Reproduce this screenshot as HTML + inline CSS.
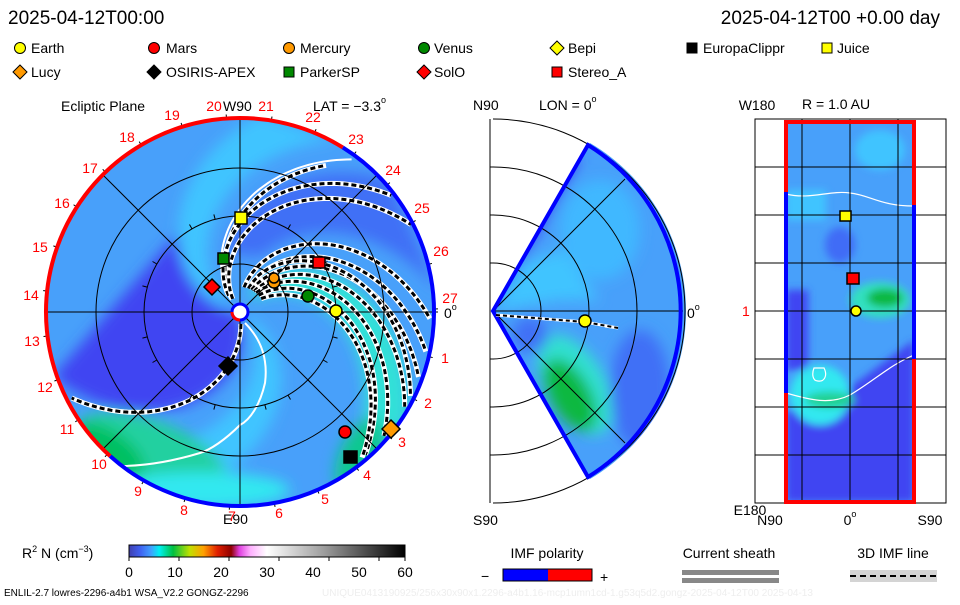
<!DOCTYPE html>
<html><head><meta charset="utf-8"><style>
html,body{margin:0;padding:0;background:#fff;}
svg text{font-family:"Liberation Sans",sans-serif;}
</style></head><body>
<svg id="s" width="960" height="600" viewBox="0 0 960 600" xmlns="http://www.w3.org/2000/svg">
<defs>
<clipPath id="cc"><circle cx="240" cy="312" r="193"/></clipPath>
<clipPath id="wc"><path d="M493,311 L590,143 A195,195 0 0 1 590,479 Z"/></clipPath>
<clipPath id="rc"><rect x="786" y="122" width="128" height="380"/></clipPath>
<filter id="bl"><feGaussianBlur stdDeviation="7"/></filter>
<filter id="bl2"><feGaussianBlur stdDeviation="4"/></filter>
<linearGradient id="cb" x1="0" x2="1">
<stop offset="0" stop-color="#4040b0"/><stop offset="0.04" stop-color="#4060f0"/><stop offset="0.08" stop-color="#40a0ff"/><stop offset="0.11" stop-color="#00f0f0"/><stop offset="0.16" stop-color="#00c040"/><stop offset="0.22" stop-color="#c0e000"/><stop offset="0.27" stop-color="#ffa000"/><stop offset="0.32" stop-color="#e02000"/><stop offset="0.37" stop-color="#900000"/><stop offset="0.40" stop-color="#e040e0"/><stop offset="0.44" stop-color="#ffb0ff"/><stop offset="0.5" stop-color="#ffffff"/><stop offset="0.7" stop-color="#a0a0a0"/><stop offset="1" stop-color="#000"/>
</linearGradient>
</defs>
<text x="8" y="24" font-size="19">2025-04-12T00:00</text>
<text x="940" y="24" font-size="19" text-anchor="end">2025-04-12T00 +0.00 day</text>
<g font-size="14" stroke="#000" stroke-width="1">
<circle cx="20" cy="48" r="5.5" fill="#ff0"/><circle cx="154" cy="48" r="5.5" fill="#f00"/><circle cx="289" cy="48" r="5.5" fill="#f90"/><circle cx="424" cy="48" r="5.5" fill="#080"/>
<path d="M557,41 l7,7 -7,7 -7,-7z" fill="#ff0"/><rect x="687" y="43" width="10" height="10" fill="#000"/><rect x="822" y="43" width="10" height="10" fill="#ff0"/>
<path d="M20,65 l7,7 -7,7 -7,-7z" fill="#f90"/><path d="M154,65 l7,7 -7,7 -7,-7z" fill="#000"/><rect x="284" y="67" width="10" height="10" fill="#080"/><path d="M424,65 l7,7 -7,7 -7,-7z" fill="#f00"/><rect x="552" y="67" width="10" height="10" fill="#f00"/>
</g>
<g font-size="14">
<text x="31" y="53">Earth</text><text x="166" y="53">Mars</text><text x="300" y="53">Mercury</text><text x="434" y="53">Venus</text><text x="568" y="53">Bepi</text><text x="703" y="53">EuropaClippr</text><text x="837" y="53">Juice</text>
<text x="31" y="77">Lucy</text><text x="166" y="77">OSIRIS-APEX</text><text x="300" y="77">ParkerSP</text><text x="434" y="77">SolO</text><text x="568" y="77">Stereo_A</text>
</g>
<!-- main panel -->
<g clip-path="url(#cc)">
<circle cx="240" cy="312" r="194" fill="#48a0fa"/>
<g filter="url(#bl)">
<path id="dark" fill="#3f45f2"/>
<path id="dark2" fill="#3f70f6"/>
<path id="cyan1" fill="#40c4ff"/>
<path id="cyan2" fill="#40c4ff"/>
<path id="turq" fill="#30e0d8"/>
<ellipse cx="150" cy="455" rx="80" ry="35" fill="#20d0a0" transform="rotate(20 150 455)"/>
<ellipse cx="110" cy="450" rx="40" ry="18" fill="#00c060" transform="rotate(35 110 450)"/>
<ellipse cx="200" cy="490" rx="90" ry="18" fill="#30e8f0"/>
<ellipse cx="360" cy="455" rx="20" ry="40" fill="#10c890" transform="rotate(25 360 455)"/>
</g>
<g id="wl" fill="none" stroke="#fff" stroke-width="2">
<path d="M245,323 C262,340 268,360 265,383 C260,405 250,420 240,425 C225,440 210,450 200,453 C170,462 145,466 120,466"/>
</g>
<g id="arms" fill="none"></g>
</g>
<g fill="none" stroke="#000" stroke-width="1">
<circle cx="240" cy="312" r="48"/><circle cx="240" cy="312" r="96"/><circle cx="240" cy="312" r="144"/>
<line x1="46" y1="312" x2="434" y2="312"/><line x1="240" y1="118" x2="240" y2="506"/>
<line x1="103" y1="175" x2="377" y2="449"/><line x1="103" y1="449" x2="377" y2="175"/>
</g>
<g id="ticks" stroke="#000" stroke-width="1"></g>
<path id="ringR" fill="none" stroke="#f00" stroke-width="4"/>
<path id="ringB" fill="none" stroke="#00f" stroke-width="4"/>
<circle cx="240" cy="312" r="8" fill="#fff" stroke="#00f" stroke-width="3"/>
<path d="M232,312 A8,8 0 0 0 240,320" fill="none" stroke="#f00" stroke-width="3"/>
<g stroke="#000" stroke-width="1.5">
<rect x="235" y="212" width="12" height="12" fill="#ff0"/>
<rect x="218" y="253" width="11" height="11" fill="#080"/>
<rect x="313" y="257" width="12" height="11" fill="#f00"/>
<path d="M212,279 l8,8 -8,8 -8,-8z" fill="#f00"/>
<circle cx="274" cy="282" r="6" fill="#f90"/><circle cx="274" cy="278" r="5" fill="#f90"/>
<circle cx="308" cy="296" r="6" fill="#080"/>
<circle cx="336" cy="311" r="6" fill="#ff0"/>
<path d="M228,357 l9,9 -9,9 -9,-9z" fill="#000"/>
<circle cx="345" cy="432" r="6" fill="#f00"/>
<rect x="344" y="451" width="13" height="12" fill="#000"/>
<path d="M391,420 l9,9 -9,9 -9,-9z" fill="#f90"/>
</g>
<g font-size="14" fill="#f00" text-anchor="middle" dominant-baseline="central">
<text x="214" y="106">20</text><text x="266" y="106">21</text><text x="172" y="115">19</text><text x="313" y="117">22</text><text x="127" y="137">18</text><text x="356" y="139">23</text><text x="90" y="168">17</text><text x="393" y="170">24</text><text x="62" y="203">16</text><text x="422" y="208">25</text><text x="40" y="247">15</text><text x="441" y="251">26</text><text x="31" y="295">14</text><text x="450" y="298">27</text><text x="32" y="341">13</text><text x="445" y="358">1</text><text x="45" y="387">12</text><text x="428" y="403">2</text><text x="67" y="429">11</text><text x="402" y="442">3</text><text x="99" y="464">10</text><text x="367" y="475">4</text><text x="138" y="491">9</text><text x="325" y="499">5</text><text x="184" y="510">8</text><text x="232" y="516">7</text><text x="279" y="513">6</text>
</g>
<g font-size="14" dominant-baseline="central">
<text x="61" y="106">Ecliptic Plane</text><text x="223" y="106">W90</text><text x="313" y="106">LAT = −3.3<tspan font-size="9" dy="-6">o</tspan></text>
<text x="223" y="519">E90</text><text x="444" y="313">0<tspan font-size="9" dy="-6">o</tspan></text>
</g>
<!-- middle panel -->
<g clip-path="url(#wc)">
<rect x="490" y="140" width="200" height="345" fill="#48a0fa"/>
<g filter="url(#bl)">
<path d="M493,311 L580,160 L560,150 Z" fill="#3f45f2"/>
<path d="M493,311 L520,265 L560,250 L600,300 L560,300 Z" fill="#40c4ff"/>
<ellipse cx="575" cy="385" rx="30" ry="55" fill="#30e0d0" transform="rotate(-30 575 385)"/>
<ellipse cx="570" cy="395" rx="20" ry="40" fill="#10b840" transform="rotate(-30 570 395)"/>
<ellipse cx="530" cy="335" rx="18" ry="18" fill="#3f70f6"/>
<ellipse cx="640" cy="390" rx="30" ry="60" fill="#3f70f6"/>
<ellipse cx="600" cy="230" rx="40" ry="50" fill="#40b8ff"/>
</g>
</g>
<g fill="none" stroke="#000" stroke-width="1">
<line x1="490" y1="119" x2="490" y2="503"/>
<path d="M493,263 A48,48 0 0 1 493,359"/><path d="M493,215 A96,96 0 0 1 493,407"/><path d="M493,167 A144,144 0 0 1 493,455"/><path d="M493,119 A192,192 0 0 1 493,503"/>
<line x1="493" y1="311" x2="683" y2="311"/><line x1="493" y1="311" x2="625" y2="179"/><line x1="493" y1="311" x2="625" y2="443"/>
<path d="M490,167h4M490,215h4M490,263h4M490,359h4M490,407h4M490,455h4"/>
</g>
<path d="M493,311 L588,145 A195,195 0 0 1 588,477 Z" fill="none" stroke="#00f" stroke-width="4"/>
<path d="M496,315 L585,322 L618,328 L605,326" fill="none" stroke="#fff" stroke-width="3"/>
<path d="M496,315 L585,322 L618,328" fill="none" stroke="#000" stroke-width="2" stroke-dasharray="4,3"/>
<circle cx="585" cy="321" r="6" fill="#ff0" stroke="#000" stroke-width="1.5"/>
<g font-size="14" dominant-baseline="central">
<text x="473" y="105">N90</text><text x="539" y="105">LON = 0<tspan font-size="9" dy="-6">o</tspan></text>
<text x="473" y="520">S90</text><text x="687" y="313">0<tspan font-size="9" dy="-6">o</tspan></text>
</g>
<!-- right panel -->
<rect x="755" y="119" width="191" height="384" fill="#fff" stroke="#000"/>
<g clip-path="url(#rc)">
<rect x="786" y="122" width="128" height="380" fill="#48a0fa"/>
<g filter="url(#bl2)">
<rect x="786" y="410" width="128" height="92" fill="#3f45f2"/>
<path d="M860,380 L914,340 L914,410 L786,430 Z" fill="#3f45f2"/>
<rect x="786" y="290" width="22" height="80" fill="#3f45f2"/>
<rect x="786" y="190" width="40" height="30" fill="#40c4ff"/>
<ellipse cx="820" cy="395" rx="30" ry="30" fill="#30e8f0"/>
<ellipse cx="880" cy="300" rx="30" ry="18" fill="#30e0c0"/>
<ellipse cx="885" cy="298" rx="18" ry="9" fill="#10b840"/>
<ellipse cx="830" cy="400" rx="25" ry="8" fill="#20d090"/>
<ellipse cx="880" cy="150" rx="25" ry="20" fill="#40c4ff"/>
<ellipse cx="840" cy="245" rx="15" ry="18" fill="#3f6cf6"/>
</g>
<path d="M786,194 C810,200 830,190 850,193 C870,195 880,206 914,206" fill="none" stroke="#fff" stroke-width="1.2"/>
<path d="M786,393 C810,400 830,405 850,395 C875,380 890,365 914,355" fill="none" stroke="#fff" stroke-width="1.2"/>
<path d="M814,368 h10 c4,8 0,14 -6,13 c-6,0 -6,-8 -4,-13z" fill="none" stroke="#fff" stroke-width="1.2"/>
</g>
<g stroke="#000" stroke-width="1">
<path d="M755,167h191M755,215h191M755,263h191M755,311h191M755,359h191M755,407h191M755,455h191M802,119v384M850,119v384M898,119v384"/>
</g>
<path d="M786,192 V122 H914 V205 M914,359 V502 H786 V393" fill="none" stroke="#f00" stroke-width="4"/>
<path d="M786,192 V393 M914,205 V359" fill="none" stroke="#00f" stroke-width="4"/>
<g stroke="#000" stroke-width="1.5">
<rect x="840" y="211" width="11" height="10" fill="#ff0"/>
<rect x="847" y="273" width="12" height="11" fill="#f00"/>
<circle cx="856" cy="311" r="5" fill="#ff0"/>
</g>
<g font-size="14" dominant-baseline="central">
<text x="757" y="105" text-anchor="middle">W180</text><text x="802" y="104">R = 1.0 AU</text>
<text x="750" y="510" text-anchor="middle">E180</text><text x="770" y="520" text-anchor="middle">N90</text>
<text x="850" y="520" text-anchor="middle">0<tspan font-size="9" dy="-6">o</tspan></text><text x="930" y="520" text-anchor="middle">S90</text>
<text x="742" y="311" fill="#f00">1</text>
</g>
<!-- bottom -->
<text x="22" y="558" font-size="14">R<tspan font-size="9" dy="-6">2</tspan><tspan dy="6"> N (cm</tspan><tspan font-size="9" dy="-6">−3</tspan><tspan dy="6">)</tspan></text>
<rect x="129" y="545" width="276" height="12" fill="url(#cb)" stroke="#000"/>
<g stroke="#000"><path d="M129,557v4M179,557v4M229,557v4M279,557v4M329,557v4M379,557v4M405,557v4"/></g>
<g font-size="14" text-anchor="middle"><text x="129" y="577">0</text><text x="175" y="577">10</text><text x="221" y="577">20</text><text x="267" y="577">30</text><text x="313" y="577">40</text><text x="359" y="577">50</text><text x="405" y="577">60</text></g>
<text x="547" y="558" font-size="14" text-anchor="middle">IMF polarity</text>
<rect x="503" y="569" width="45" height="12" fill="#00f"/><rect x="548" y="569" width="44" height="12" fill="#f00"/><rect x="503" y="569" width="89" height="12" fill="none" stroke="#000"/>
<text x="481" y="581" font-size="14">−</text><text x="600" y="582" font-size="14">+</text>
<text x="729" y="558" font-size="14" text-anchor="middle">Current sheath</text>
<rect x="682" y="570" width="97" height="5" fill="#888"/><rect x="682" y="578" width="97" height="5" fill="#888"/>
<text x="893" y="558" font-size="14" text-anchor="middle">3D IMF line</text>
<rect x="850" y="570" width="87" height="12" fill="#d4d4d4"/><line x1="850" y1="576" x2="937" y2="576" stroke="#000" stroke-width="2" stroke-dasharray="6,4"/>
<text x="4" y="596" font-size="10">ENLIL-2.7 lowres-2296-a4b1 WSA_V2.2 GONGZ-2296</text>
<text x="322" y="596" font-size="10" fill="#eee">UNIQUE0413190925/256x30x90x1.2296-a4b1.16-mcp1umn1cd-1.g53q5d2.gongz-2025-04-12T00   2025-04-13</text>
</svg>
<script>
var cx=240,cy=312,R=194,D=Math.PI/180;
function P(r,t){return [cx+r*Math.cos(t*D),cy+r*Math.sin(t*D)];}
function spiral(t0,r0,k,ra,rb){var s="";for(var r=ra;r<=rb;r+=3){var p=P(r,t0+k*(r-r0));s+=(s?"L":"M")+p[0].toFixed(1)+","+p[1].toFixed(1);}return s;}
function band(t0,r0,k,w,ra,rb){var a=[],b=[];for(var r=ra;r<=rb;r+=4){a.push(P(r,t0+k*(r-r0)-w));b.unshift(P(r,t0+k*(r-r0)+w));}return "M"+a.concat(b).map(function(p){return p[0].toFixed(1)+","+p[1].toFixed(1)}).join("L")+"Z";}
document.getElementById("dark").setAttribute("d",band(175,96,0.45,60,10,200));
document.getElementById("dark2").setAttribute("d",band(-55,130,0.45,18,60,200));
document.getElementById("cyan1").setAttribute("d",band(-118,96,0.45,12,10,200));
document.getElementById("cyan2").setAttribute("d",band(80,96,0.45,14,10,200));
document.getElementById("turq").setAttribute("d",band(-10,96,0.55,14,20,200));
var g=document.getElementById("arms"),ns="http://www.w3.org/2000/svg";
function arm(t0,r0,k,ra,rb){var d=spiral(t0,r0,k,ra,rb);var a=document.createElementNS(ns,"path");a.setAttribute("d",d);a.setAttribute("stroke","#fff");a.setAttribute("stroke-width","5");g.appendChild(a);var b=document.createElementNS(ns,"path");b.setAttribute("d",d);b.setAttribute("stroke","#000");b.setAttribute("stroke-width","3");b.setAttribute("stroke-dasharray","5,3");g.appendChild(b);}
[[-45,96,0.5],[-35,96,0.5],[-27,96,0.5],[-19,96,0.52],[-11,96,0.55],[-3,96,0.55],[3,96,0.5]].forEach(function(a){arm(a[0],a[1],a[2],25,192);});
arm(-90,94,0.4,20,170);arm(-107,55,0.51,20,192);arm(-102,48,0.52,15,192);
arm(-32,93,0.6,40,192);
arm(102,55,0.38,12,190);
var w=document.getElementById("wl");
function wline(t0,r0,k,ra,rb){var p=document.createElementNS(ns,"path");p.setAttribute("d",spiral(t0,r0,k,ra,rb));w.appendChild(p);}
wline(-108,60,0.42,15,190);
function arc(a1,a2){var p1=P(R,a1),p2=P(R,a2);var l=((a2-a1+360)%360)>180?1:0;return "M"+p1+"A"+R+","+R+" 0 "+l+" 1 "+p2;}
document.getElementById("ringR").setAttribute("d",arc(132,-58));
document.getElementById("ringB").setAttribute("d",arc(-58,132));
var t=document.getElementById("ticks"),s="";
for(var a=-180;a<180;a+=15){var p1=P(96,a),p2=P(101,a);s+="M"+p1+"L"+p2;}
for(var a=0;a<360;a+=13.3){var p1=P(R,a),p2=P(R+4,a);s+="M"+p1+"L"+p2;}
var tp=document.createElementNS(ns,"path");tp.setAttribute("d",s);t.appendChild(tp);
</script>
</body></html>
